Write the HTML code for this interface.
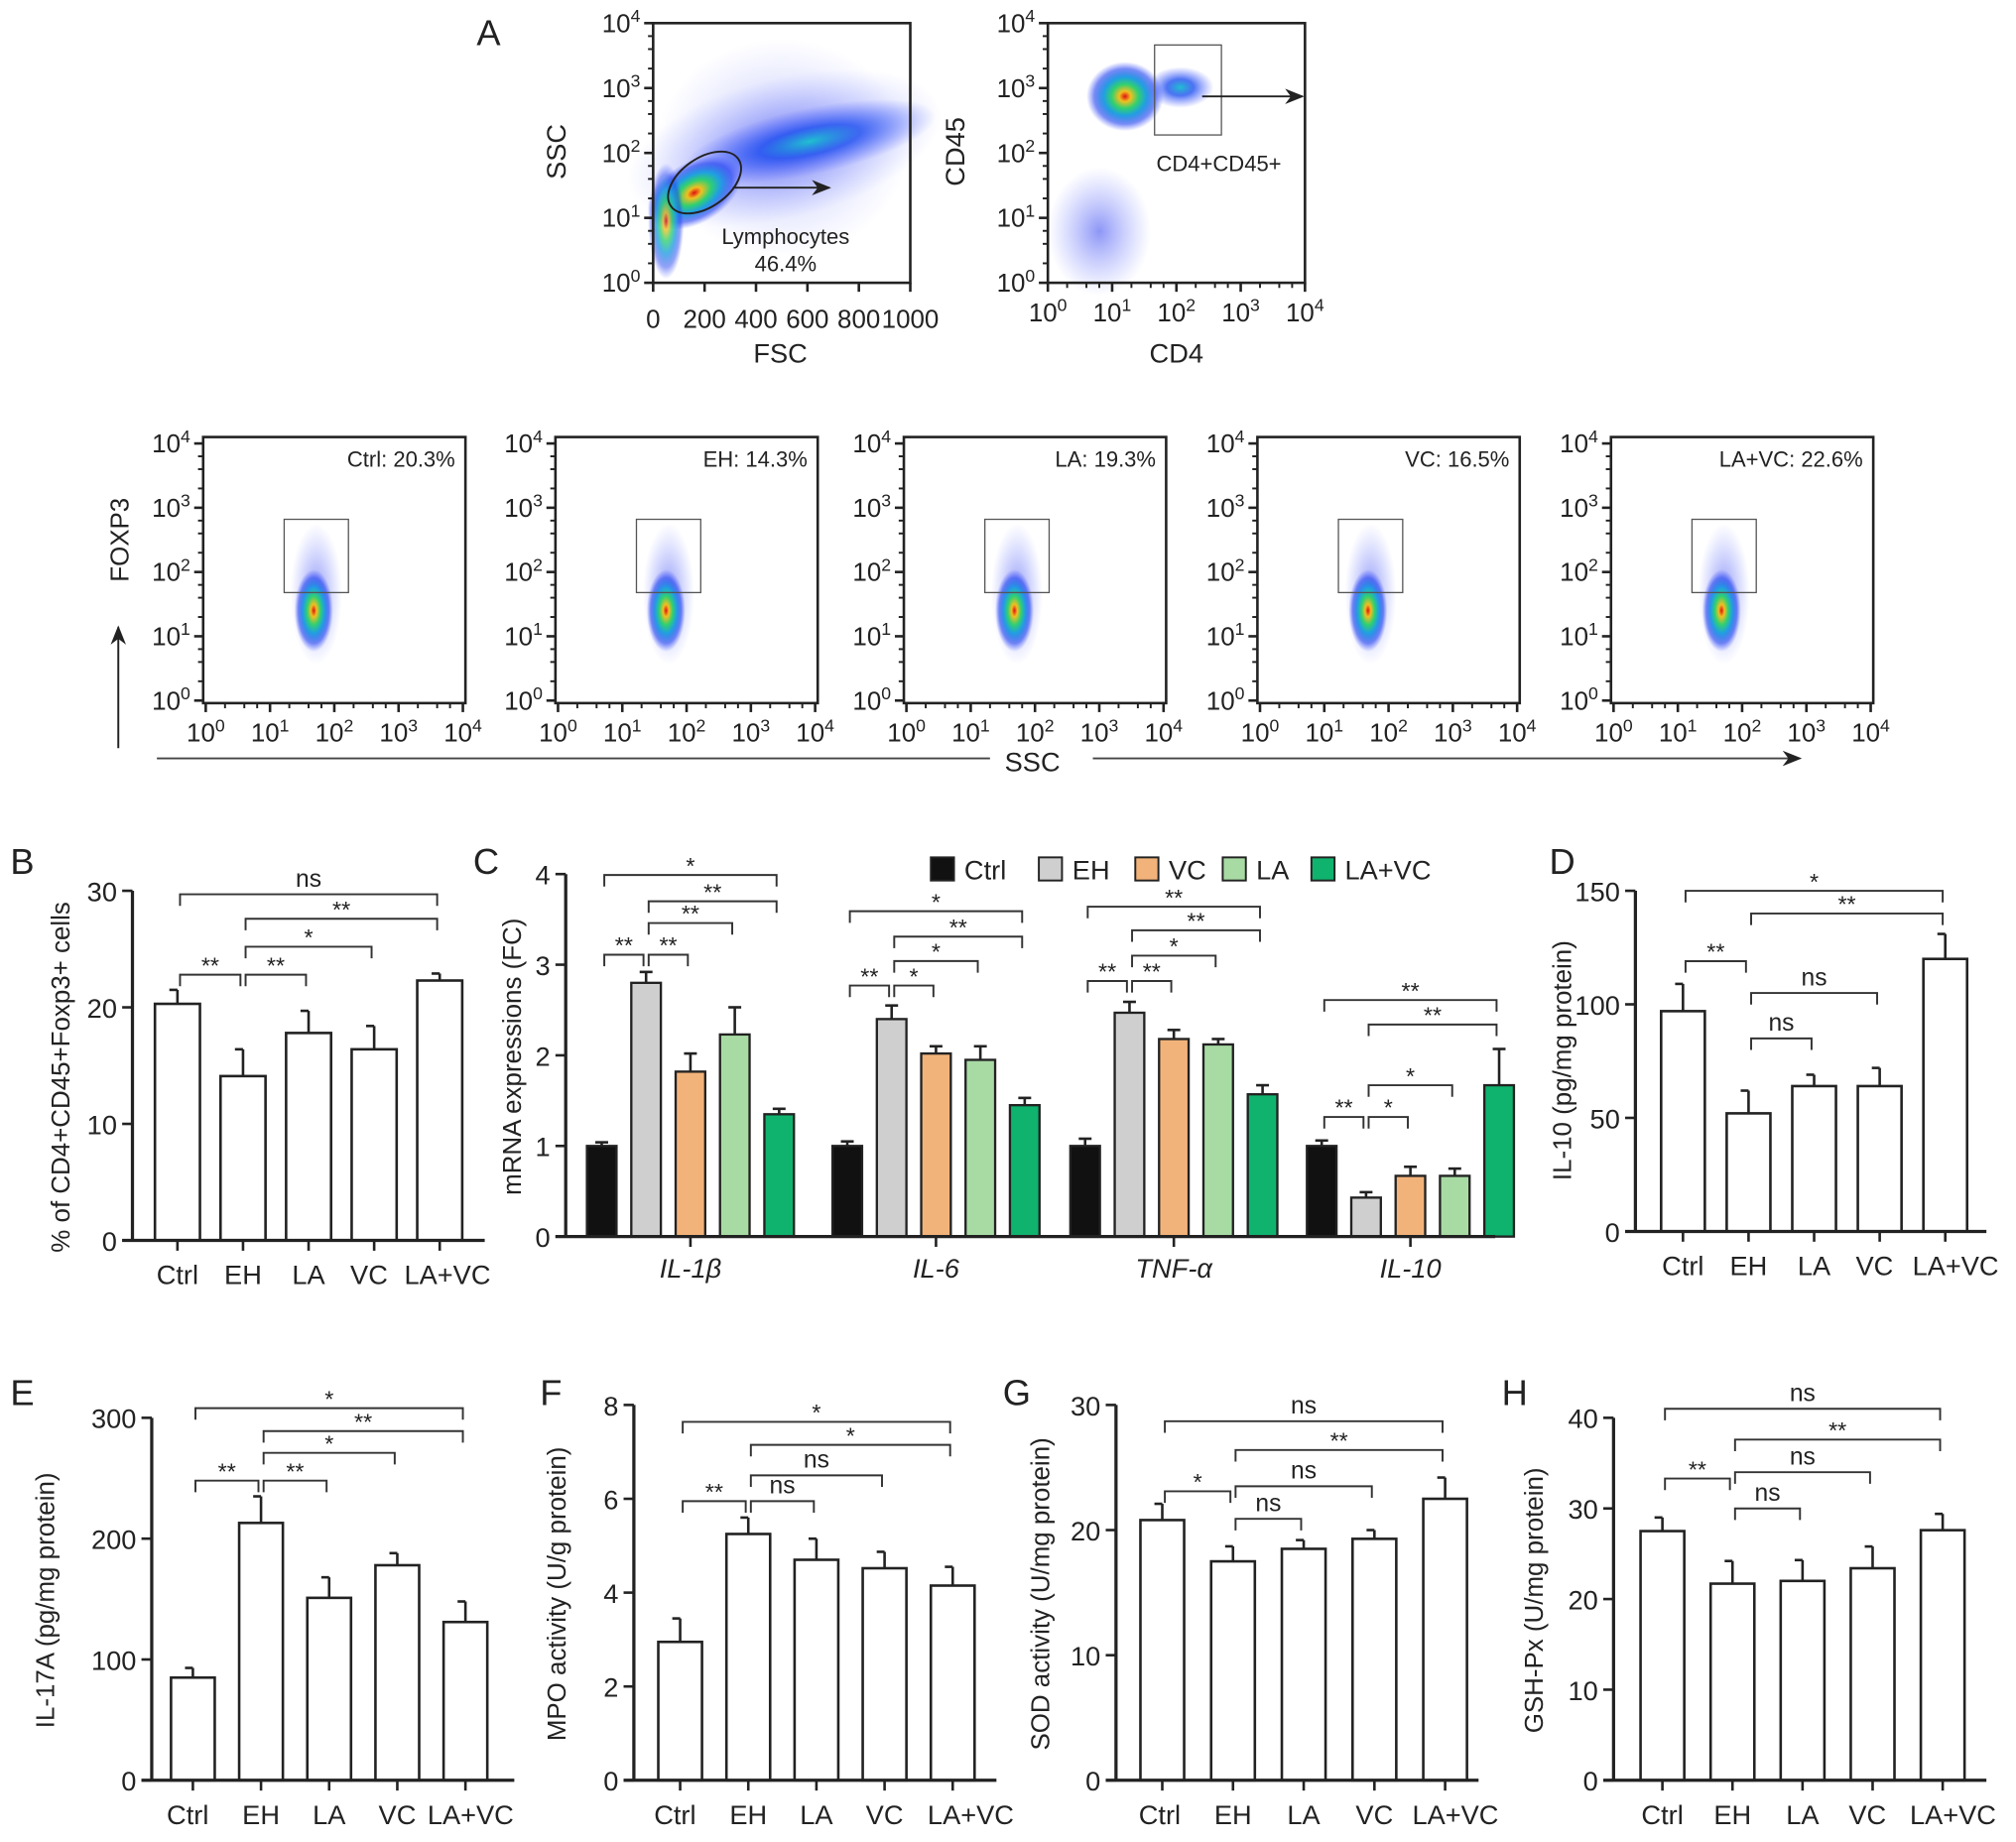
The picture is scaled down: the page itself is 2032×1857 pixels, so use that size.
<!DOCTYPE html>
<html><head><meta charset="utf-8"><style>
html,body{margin:0;padding:0;background:#fff}
svg{display:block}
text{font-family:"Liberation Sans",Arial,sans-serif;fill:#222}
</style></head><body>
<svg id="fig" width="2032" height="1857" viewBox="0 0 1568 1433" xmlns="http://www.w3.org/2000/svg">
<defs>
<radialGradient id="heat" cx="50%" cy="50%" r="50%">
<stop offset="0" stop-color="#e01010"/><stop offset="0.15" stop-color="#f0c020"/><stop offset="0.35" stop-color="#30d070"/><stop offset="0.55" stop-color="#20a0e0"/><stop offset="0.8" stop-color="#2040f0" stop-opacity="0.6"/><stop offset="1" stop-color="#4050ff" stop-opacity="0"/>
</radialGradient>
<radialGradient id="cool" cx="50%" cy="50%" r="50%">
<stop offset="0" stop-color="#20c0d0"/><stop offset="0.4" stop-color="#2050f0" stop-opacity="0.8"/><stop offset="1" stop-color="#5060ff" stop-opacity="0"/>
</radialGradient>
<radialGradient id="sparse" cx="50%" cy="50%" r="50%">
<stop offset="0" stop-color="#3040ee" stop-opacity="0.55"/><stop offset="1" stop-color="#6070ff" stop-opacity="0"/>
</radialGradient>
<marker id="arr" markerWidth="10" markerHeight="8" refX="9" refY="4" orient="auto"><path d="M0,0 L10,4 L0,8 L3,4 z" fill="#222"/></marker>
</defs>
</svg>
<script>
const NS="http://www.w3.org/2000/svg";
const svg=document.getElementById('fig');
function el(tag,attrs,parent){const e=document.createElementNS(NS,tag);for(const k in attrs)e.setAttribute(k,attrs[k]);(parent||svg).appendChild(e);return e;}
function txt(x,y,s,size,anchor,parent,extra){const t=el('text',Object.assign({x:x,y:y,'font-size':size,'text-anchor':anchor||'middle'},extra||{}),parent);t.textContent=s;return t;}
function pow10(x,y,e,size,anchor,parent){const t=el('text',{x:x,y:y,'font-size':size,'text-anchor':anchor||'middle'},parent);t.textContent='10';const s=el('tspan',{dy:-size*0.4,'font-size':size*0.68},t);s.textContent=String(e);return t;}

// ---------------- Panel A: flow cytometry ----------------
const pA=el('g',{});


txt(380,35,'A',28,'middle',pA);
function logYAxis(x,top,bot,g){const step=(bot-top)/4;for(let i=0;i<=4;i++){const y=bot-i*step;el('line',{x1:x-7,y1:y,x2:x,y2:y,stroke:'#222','stroke-width':2},g);pow10(x-10,y+7,i,20,'end',g);if(i<4)for(const f of [0.3,0.6,0.8])el('line',{x1:x-4,y1:y-step*f,x2:x,y2:y-step*f,stroke:'#222','stroke-width':1.5},g);}}
function logXAxis(l,r,y,g){const step=(r-l)/4;for(let i=0;i<=4;i++){const x=l+i*step;el('line',{x1:x,y1:y,x2:x,y2:y+7,stroke:'#222','stroke-width':2},g);pow10(x,y+30,i,20,'middle',g);if(i<4)for(const f of [0.3,0.6,0.8])el('line',{x1:x+step*f,y1:y,x2:x+step*f,y2:y+4,stroke:'#222','stroke-width':1.5},g);}}
// plot 1 FSC/SSC
(function(){const g=el('g',{},pA);


el('rect',{x:510,y:30,width:196,height:170,fill:'url(#sparse)',opacity:0.6},g);
el('ellipse',{cx:610,cy:115,rx:125,ry:55,fill:'url(#sparse)',transform:'rotate(-14 610 115)'},g);
el('ellipse',{cx:630,cy:110,rx:100,ry:26,fill:'url(#cool)',transform:'rotate(-12 630 110)'},g);
el('ellipse',{cx:540,cy:150,rx:40,ry:24,fill:'url(#heat)',transform:'rotate(-30 540 150)'},g);
el('ellipse',{cx:518,cy:172,rx:14,ry:45,fill:'url(#heat)',opacity:0.8},g);
el('rect',{x:508,y:18,width:200,height:202,fill:'none',stroke:'#222','stroke-width':2},g);
logYAxis(508,18,220,g);
const xs=[0,200,400,600,800,1000];xs.forEach((v,i)=>{const x=508+i*40;el('line',{x1:x,y1:220,x2:x,y2:227,stroke:'#222','stroke-width':2},g);txt(x,255,String(v),20,'middle',g);});
txt(607,282,'FSC',21,'middle',g);
txt(440,118,'SSC',21,'middle',g,{transform:'rotate(-90 440 118)'});
el('ellipse',{cx:548,cy:142,rx:32,ry:19,fill:'none',stroke:'#222','stroke-width':1.5,transform:'rotate(-35 548 142)'},g);
el('line',{x1:570,y1:146,x2:645,y2:146,stroke:'#222','stroke-width':1.5,'marker-end':'url(#arr)'},g);
txt(611,190,'Lymphocytes',17,'middle',g);txt(611,211,'46.4%',17,'middle',g);
})();
// plot 2 CD4/CD45
(function(){const g=el('g',{},pA);


el('ellipse',{cx:855,cy:180,rx:40,ry:50,fill:'url(#sparse)'},g);
el('ellipse',{cx:875,cy:75,rx:30,ry:27,fill:'url(#heat)'},g);
el('ellipse',{cx:918,cy:68,rx:26,ry:16,fill:'url(#cool)'},g);
el('rect',{x:815,y:18,width:200,height:202,fill:'none',stroke:'#222','stroke-width':2},g);
logYAxis(815,18,220,g);logXAxis(815,1015,220,g);
txt(915,282,'CD4',21,'middle',g);
txt(750,118,'CD45',21,'middle',g,{transform:'rotate(-90 750 118)'});
el('rect',{x:898,y:35,width:52,height:70,fill:'none',stroke:'#555','stroke-width':1},g);
el('line',{x1:935,y1:75,x2:1013,y2:75,stroke:'#222','stroke-width':1.5,'marker-end':'url(#arr)'},g);
txt(948,133,'CD4+CD45+',17,'middle',g);
})();
// bottom five plots
const flowLabels=['Ctrl: 20.3%','EH: 14.3%','LA: 19.3%','VC: 16.5%','LA+VC: 22.6%'];
const flowLefts=[158,432,703,978,1253];
flowLabels.forEach((lab,i)=>{const L=flowLefts[i],g=el('g',{},pA);


const cx=L+88;
el('ellipse',{cx:cx,cy:462,rx:20,ry:55,fill:'url(#sparse)'},g);
el('ellipse',{cx:cx-2,cy:475,rx:15,ry:32,fill:'url(#heat)'},g);
el('rect',{x:L,y:340,width:204,height:207,fill:'none',stroke:'#222','stroke-width':2},g);
logYAxis(L,345,545,g);logXAxis(L+2,L+202,547,g);
el('rect',{x:L+63,y:404,width:50,height:57,fill:'none',stroke:'#555','stroke-width':1},g);
txt(L+196,363,lab,17,'end',g);
});
txt(100,420,'FOXP3',20,'middle',pA,{transform:'rotate(-90 100 420)'});
el('line',{x1:92,y1:582,x2:92,y2:488,stroke:'#222','stroke-width':1.5,'marker-end':'url(#arr)'},pA);
el('line',{x1:122,y1:590,x2:770,y2:590,stroke:'#444','stroke-width':1.5},pA);
el('line',{x1:850,y1:590,x2:1400,y2:590,stroke:'#444','stroke-width':1.5,'marker-end':'url(#arr)'},pA);
txt(803,600,'SSC',21,'middle',pA);

// ---------------- Bar chart data ----------------
const groups=['Ctrl','EH','LA','VC','LA+VC'];
const bVals=[20.3,14.1,17.8,16.4,22.3];
const bErrs=[1.2,2.3,1.9,2.0,0.6];
const dVals=[97,52,64,64,120];
const dErrs=[12,10,5,8,11];
const eVals=[85,213,151,178,131];
const eErrs=[8,22,17,10,17];
const fVals=[2.95,5.25,4.7,4.52,4.15];
const fErrs=[0.5,0.35,0.45,0.35,0.4];
const gVals=[20.8,17.5,18.5,19.3,22.5];
const gErrs=[1.3,1.2,0.7,0.7,1.7];
const hVals=[27.5,21.7,22.0,23.4,27.6];
const hErrs=[1.5,2.5,2.3,2.4,1.8];
const bTicks=[0,10,20,30],dTicks=[0,50,100,150],eTicks=[0,100,200,300],fTicks=[0,2,4,6,8],gTicks=[0,10,20,30],hTicks=[0,10,20,30,40];
const bSig=[[0,4,29.7,'ns'],[1,4,27.6,'**'],[1,3,25.2,'*'],[0,1,22.8,'**'],[1,2,22.8,'**']];
const dSig=[[0,4,150,'*'],[1,4,140,'**'],[0,1,119,'**'],[1,3,105,'ns'],[1,2,85,'ns']];
const eSig=[[0,4,308,'*'],[1,4,289,'**'],[1,3,271,'*'],[0,1,248,'**'],[1,2,248,'**']];
const fSig=[[0,4,7.64,'*'],[1,4,7.15,'*'],[1,3,6.5,'ns'],[0,1,5.95,'**'],[1,2,5.95,'ns']];
const gSig=[[0,4,28.7,'ns'],[1,4,26.4,'**'],[1,3,23.5,'ns'],[0,1,23.1,'*'],[1,2,20.9,'ns']];
const hSig=[[0,4,41,'ns'],[1,4,37.6,'**'],[1,3,34,'ns'],[0,1,33.3,'**'],[1,2,30,'ns']];

// panel C data
const genes=['IL-1β','IL-6','TNF-α','IL-10'];
const series=['Ctrl','EH','VC','LA','LA+VC'];
const cCtrl=[1.0,1.0,1.0,1.0],cCtrlE=[0.04,0.05,0.08,0.06];
const cEH=[2.8,2.4,2.47,0.43],cEHE=[0.12,0.15,0.12,0.06];
const cVC=[1.82,2.02,2.18,0.67],cVCE=[0.2,0.08,0.1,0.1];
const cLA=[2.23,1.95,2.12,0.67],cLAE=[0.3,0.15,0.06,0.08];
const cLAVC=[1.35,1.45,1.57,1.67],cLAVCE=[0.06,0.08,0.1,0.4];
const cTicks=[0,1,2,3,4];
const cSig=[
 [[0,4,3.99,'*'],[1,4,3.70,'**'],[1,3,3.46,'**'],[0,1,3.11,'**'],[1,2,3.11,'**']],
 [[0,4,3.59,'*'],[1,4,3.31,'**'],[1,3,3.04,'*'],[0,1,2.77,'**'],[1,2,2.77,'*']],
 [[0,4,3.64,'**'],[1,4,3.38,'**'],[1,3,3.10,'*'],[0,1,2.82,'**'],[1,2,2.82,'**']],
 [[0,4,2.61,'**'],[1,4,2.34,'**'],[1,3,1.67,'*'],[0,1,1.32,'**'],[1,2,1.32,'*']]];

function bracket(g,x1,x2,y,lab,fs){el('path',{d:`M${x1+2},${y+9} V${y} H${x2-2} V${y+9}`,fill:'none',stroke:'#333','stroke-width':1.5},g);
 const t=txt((x1+x2)/2,lab==='ns'?y-6:y-1,lab,lab==='ns'?19:18,'middle',g);t.setAttribute('fill','#333');}

function barPanel(o){
 const g=el('g',{});
 
 
 const max=o.ticks[o.ticks.length-1];
 const Y=v=>o.y0-(v/max)*(o.y0-o.yTop);
 const X=i=>o.x0+o.off+i*o.step;
 txt(o.letterX,o.letterY,o.letter,28,'start',g);
 o.values.forEach((v,i)=>{const cx=X(i),w=o.bw;
  const eb=el('g',{},g);
  
  
  el('line',{x1:cx,y1:Y(v),x2:cx,y2:Y(v+o.errs[i]),stroke:'#222','stroke-width':2},eb);
  el('line',{x1:cx-w*0.18,y1:Y(v+o.errs[i]),x2:cx,y2:Y(v+o.errs[i]),stroke:'#222','stroke-width':2},eb);
  const r=el('rect',{x:cx-w/2,y:Y(v),width:w,height:o.y0-Y(v),fill:'#fff',stroke:'#222','stroke-width':2},g);
  
  
  el('line',{x1:cx,y1:o.y0,x2:cx,y2:o.y0+8,stroke:'#222','stroke-width':2},g);
  txt(cx+(o.labShift?o.labShift[i]:0),o.y0+34,o.cats[i],21,'middle',g);
 });
 el('line',{x1:o.x0,y1:o.yTop,x2:o.x0,y2:o.y0,stroke:'#222','stroke-width':2.5},g);
 el('line',{x1:o.x0-8,y1:o.y0,x2:o.xEnd,y2:o.y0,stroke:'#222','stroke-width':2.5},g);
 o.ticks.forEach(t=>{el('line',{x1:o.x0-8,y1:Y(t),x2:o.x0,y2:Y(t),stroke:'#222','stroke-width':2},g);txt(o.x0-12,Y(t)+8,String(t),21,'end',g);});
 const yl=txt(o.ylX,o.ylY,o.ylabel,20,'middle',g,{transform:`rotate(-90 ${o.ylX} ${o.ylY})`});
 
 
 o.sig.forEach(s=>bracket(g,X(s[0]),X(s[1]),Y(s[2]),s[3]));
}
barPanel({name:'panel-b',letter:'B',letterX:8,letterY:680,x0:103,y0:965,yTop:693,xEnd:377,off:35,step:51,bw:35,values:bVals,errs:bErrs,cats:groups,ticks:bTicks,sig:bSig,ylabel:'% of CD4+CD45+Foxp3+ cells',ylX:54,ylY:838,labShift:[0,0,0,-4,6]});
barPanel({name:'panel-d',letter:'D',letterX:1205,letterY:680,x0:1272,y0:958,yTop:693,xEnd:1545,off:37,step:51,bw:34,values:dVals,errs:dErrs,cats:groups,ticks:dTicks,sig:dSig,ylabel:'IL-10 (pg/mg protein)',ylX:1222,ylY:825,labShift:[0,0,0,-4,8]});
barPanel({name:'panel-e',letter:'E',letterX:8,letterY:1093,x0:118,y0:1385,yTop:1103,xEnd:400,off:32,step:53,bw:34,values:eVals,errs:eErrs,cats:groups,ticks:eTicks,sig:eSig,ylabel:'IL-17A (pg/mg protein)',ylX:42,ylY:1245,labShift:[-4,0,0,0,4]});
barPanel({name:'panel-f',letter:'F',letterX:420,letterY:1093,x0:493,y0:1385,yTop:1093,xEnd:775,off:36,step:53,bw:34,values:fVals,errs:fErrs,cats:groups,ticks:fTicks,sig:fSig,ylabel:'MPO activity (U/g protein)',ylX:440,ylY:1240,labShift:[-4,0,0,0,14]});
barPanel({name:'panel-g',letter:'G',letterX:780,letterY:1093,x0:868,y0:1385,yTop:1093,xEnd:1150,off:36,step:55,bw:34,values:gVals,errs:gErrs,cats:groups,ticks:gTicks,sig:gSig,ylabel:'SOD activity (U/mg protein)',ylX:816,ylY:1240,labShift:[-2,0,0,0,8]});
barPanel({name:'panel-h',letter:'H',letterX:1168,letterY:1093,x0:1255,y0:1385,yTop:1103,xEnd:1545,off:38,step:54.5,bw:34,values:hVals,errs:hErrs,cats:groups,ticks:hTicks,sig:hSig,ylabel:'GSH-Px (U/mg protein)',ylX:1200,ylY:1245,labShift:[0,0,0,-4,8]});

// ---------------- Panel C ----------------
(function(){
 const g=el('g',{});
 
 
 const x0=440,y0=962,yTop=680,max=4,xEnd=1163;
 const Y=v=>y0-(v/max)*(y0-yTop);
 const gc=[537,728,913,1097],bs=34.5,bw=23;
 const X=(gi,si)=>gc[gi]+(si-2)*bs;
 const colors=['#111','#cfcfcf','#f2b37a','#a8dba4','#10b36e'];
 const vals=[cCtrl,cEH,cVC,cLA,cLAVC],errs=[cCtrlE,cEHE,cVCE,cLAE,cLAVCE];
 txt(368,680,'C',28,'start',g);
 genes.forEach((gn,gi)=>{
  series.forEach((s,si)=>{const v=vals[si][gi],e=errs[si][gi],cx=X(gi,si);
   el('line',{x1:cx,y1:Y(v),x2:cx,y2:Y(v+e),stroke:'#222','stroke-width':2},g);
   el('line',{x1:cx-5,y1:Y(v+e),x2:cx+5,y2:Y(v+e),stroke:'#222','stroke-width':2},g);
   const r=el('rect',{x:cx-bw/2,y:Y(v),width:bw,height:y0-Y(v),fill:colors[si],stroke:'#222','stroke-width':1.8},g);
   
   
  });
  el('line',{x1:gc[gi],y1:y0,x2:gc[gi],y2:y0+8,stroke:'#222','stroke-width':2},g);
  txt(gc[gi],y0+32,gn,21,'middle',g,{'font-style':'italic'});
  cSig[gi].forEach(s=>bracket(g,X(gi,s[0]),X(gi,s[1]),Y(s[2]),s[3]));
 });
 el('line',{x1:x0,y1:yTop,x2:x0,y2:y0,stroke:'#222','stroke-width':2.5},g);
 el('line',{x1:x0-8,y1:y0,x2:xEnd,y2:y0,stroke:'#222','stroke-width':2.5},g);
 cTicks.forEach(t=>{el('line',{x1:x0-8,y1:Y(t),x2:x0,y2:Y(t),stroke:'#222','stroke-width':2},g);txt(x0-12,Y(t)+8,String(t),21,'end',g);});
 txt(405,822,'mRNA expressions (FC)',20,'middle',g,{transform:'rotate(-90 405 822)'});
 const lx=[724,808,883,951,1020];
 series.forEach((s,i)=>{const lg=el('g',{},g);
  
  
  el('rect',{x:lx[i],y:667,width:18,height:18,fill:colors[i],stroke:'#222','stroke-width':1.5},lg);
  txt(lx[i]+26,684,s,21,'start',lg);});
})();
</script>
</body></html>
